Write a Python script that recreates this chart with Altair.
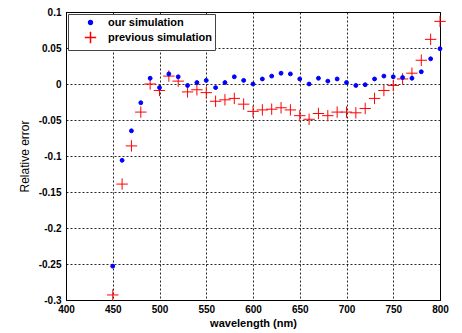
import altair as alt
import pandas as pd

wavelength = [450, 460, 470, 480, 490, 500, 510, 520, 530, 540, 550, 560,
              570, 580, 590, 600, 610, 620, 630, 640, 650, 660, 670, 680,
              690, 700, 710, 720, 730, 740, 750, 760, 770, 780, 790, 800]
our_sim = [-0.253, -0.106, -0.065, -0.026, 0.008, -0.005, 0.014, 0.010,
           -0.002, 0.002, 0.005, -0.005, 0.002, 0.010, 0.005, 0.000,
           0.007, 0.011, 0.015, 0.014, 0.007, 0.000, 0.008, 0.004,
           0.007, 0.002, -0.002, -0.001, 0.007, 0.011, 0.010, 0.009,
           0.008, 0.017, 0.035, 0.049]
prev_sim = [-0.293, -0.139, -0.086, -0.039, 0.000, -0.009, 0.011, 0.004,
            -0.011, -0.008, -0.012, -0.024, -0.022, -0.020, -0.028, -0.038,
            -0.036, -0.035, -0.033, -0.036, -0.044, -0.049, -0.041, -0.044,
            -0.039, -0.039, -0.040, -0.034, -0.020, -0.009, -0.002, 0.007,
            0.015, 0.033, 0.062, 0.087]
series_names = ["our simulation", "previous simulation"]
x_ticks = [400, 450, 500, 550, 600, 650, 700, 750, 800]
y_ticks = [-0.3, -0.25, -0.2, -0.15, -0.1, -0.05, 0, 0.05, 0.1]

rows = []
for w, v in zip(wavelength, our_sim):
    rows.append({"wl": w, "err": v, "series": series_names[0]})
for w, v in zip(wavelength, prev_sim):
    rows.append({"wl": w, "err": v, "series": series_names[1]})
df = pd.DataFrame(rows)

FONT = "Liberation Sans"
leg = alt.Legend(orient="none", legendX=2, legendY=2, fillColor="white",
                 strokeColor="#444444", padding=3, symbolOffset=13,
                 labelOffset=11, rowPadding=0, labelFontSize=11,
                 labelFontWeight="bold", labelFont=FONT, labelColor="black",
                 labelExpr="datum.label + '    '")

chart = alt.Chart(df).mark_point(strokeWidth=1, opacity=1, clip=False).encode(
    x=alt.X("wl:Q", scale=alt.Scale(domain=[400, 800], nice=False, zero=False),
            axis=alt.Axis(values=x_ticks, title="wavelength (nm)", grid=True)),
    y=alt.Y("err:Q", scale=alt.Scale(domain=[-0.3, 0.1], nice=False, zero=False),
            axis=alt.Axis(values=y_ticks, title="Relative error", grid=True,
                          labelExpr="toString(datum.value)",
                          titleFontWeight="normal", titleFontSize=12,
                          titleX=-35, titleY=144)),
    color=alt.Color("series:N", title=None, legend=leg,
                    scale=alt.Scale(domain=series_names, range=["#0000ff", "#ff0000"])),
    fill=alt.Fill("series:N", title=None, legend=leg,
                  scale=alt.Scale(domain=series_names, range=["#0000ff", "transparent"])),
    shape=alt.Shape("series:N", title=None, legend=leg,
                    scale=alt.Scale(domain=series_names,
                                    range=["circle", "M-1,0L1,0M0,-1L0,1"])),
    size=alt.Size("series:N", title=None, legend=leg,
                  scale=alt.Scale(domain=series_names, range=[15, 130])),
    order=alt.Order("series:N", sort="descending"),
).properties(
    width=374, height=288,
    autosize=alt.AutoSizeParams(type="none"),
    padding={"left": 66, "top": 12, "right": 22, "bottom": 33},
).configure_view(
    stroke="black", strokeWidth=1
).configure_axis(
    labelFont=FONT, titleFont=FONT, labelFontSize=10, labelFontWeight="bold",
    labelColor="black", titleColor="black", titleFontSize=11,
    titleFontWeight="bold", gridColor="black", gridDash=[2, 2],
    gridOpacity=0.85, domainColor="black", ticks=False, labelPadding=5,
    labelFlush=False,
).configure_axisX(
    labelPadding=4, titlePadding=3
)

chart.save("out.html", embed_options={"renderer": "svg", "actions": False})
